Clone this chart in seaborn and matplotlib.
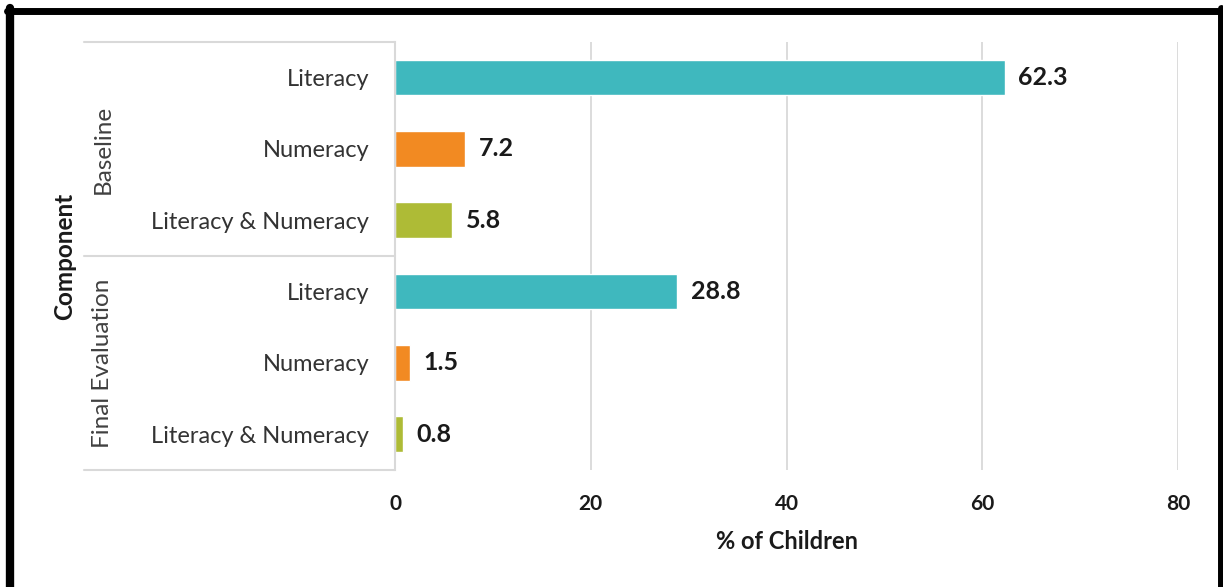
import matplotlib
matplotlib.use("Agg")
import matplotlib.pyplot as plt
import seaborn as sns
import pandas as pd

# Data
phases = ["Baseline", "Baseline", "Baseline",
          "Final Evaluation", "Final Evaluation", "Final Evaluation"]
components = ["Literacy", "Numeracy", "Literacy & Numeracy",
              "Literacy", "Numeracy", "Literacy & Numeracy"]
values = [62.3, 7.2, 5.8, 28.8, 1.5, 0.8]
x_ticks = [0, 20, 40, 60, 80]

palette = {"Literacy": "#3FB8BE", "Numeracy": "#F28A22",
           "Literacy & Numeracy": "#AEBB36"}

df = pd.DataFrame({"phase": phases, "component": components, "value": values})
df["key"] = df["phase"] + " | " + df["component"]

sns.set_theme(style="white")
plt.rcParams["font.family"] = ["Lato", "DejaVu Sans"]

W, H = 1223, 587
fig = plt.figure(figsize=(W / 100, H / 100), dpi=100)
ax = fig.add_axes([395 / W, 1 - 470 / H, (1178 - 395) / W, (470 - 42) / H])

sns.barplot(data=df, y="key", x="value", hue="component", palette=palette,
            order=list(df["key"]), dodge=False, width=0.5, legend=False,
            saturation=1, ax=ax)

ax.set_xlim(0, 80)
ax.set_ylim(5.5, -0.5)
ax.set_xticks(x_ticks)
ax.set_xticklabels([str(t) for t in x_ticks], fontsize=15, fontweight="bold",
                   color="#1A1A1A")
ax.tick_params(axis="x", length=0, pad=17)
ax.xaxis.grid(True, color="#D9D9D9", linewidth=1.3)
ax.set_axisbelow(True)
for s in ["top", "right", "bottom"]:
    ax.spines[s].set_visible(False)
ax.spines["left"].set_color("#D9D9D9")
ax.spines["left"].set_linewidth(1.5)

ax.set_yticks(range(len(components)))
ax.set_yticklabels(components, fontsize=17, color="#333333")
ax.tick_params(axis="y", length=0, pad=18.5)
ax.set_ylabel("")
ax.set_xlabel("% of Children", fontsize=17, fontweight="bold", labelpad=12,
              color="#1A1A1A")

# Value labels
for i, v in enumerate(values):
    ax.text(v + 1.4, i, f"{v:.1f}", va="center", ha="left",
            fontsize=18, fontweight="bold", color="#1A1A1A")

# Grouping panel on the left
x0 = (84 - 395) / (1178 - 395) * 80
for yb in [-0.5, 2.5, 5.5]:
    ax.plot([x0, 0], [yb, yb], transform=ax.transData, color="#D9D9D9",
            linewidth=1.5, clip_on=False)
ax.text((103 - 395) / 783 * 80, 1, "Baseline", rotation=90, ha="center",
        va="center", fontsize=17.5, color="#404040")
ax.text((103 - 395) / 783 * 80, 4, "Final Evaluation", rotation=90,
        ha="center", va="center", fontsize=17.5, color="#404040")
ax.text((65 - 395) / 783 * 80, 2.5, "Component", rotation=90, ha="center",
        va="center", fontsize=17.5, fontweight="bold", color="#1A1A1A")

# Black frame around the figure
fig.add_artist(plt.Line2D([10 / W, 10 / W], [0, 1 - 8 / H], color="black",
                          linewidth=6, transform=fig.transFigure))
fig.add_artist(plt.Line2D([7 / W, 1], [1 - 11 / H, 1 - 11 / H], color="black",
                          linewidth=5, transform=fig.transFigure))
fig.add_artist(plt.Line2D([1221 / W, 1221 / W], [0, 1 - 8 / H], color="black",
                          linewidth=5, transform=fig.transFigure))

fig.savefig("out.png", dpi=100, facecolor="white")
